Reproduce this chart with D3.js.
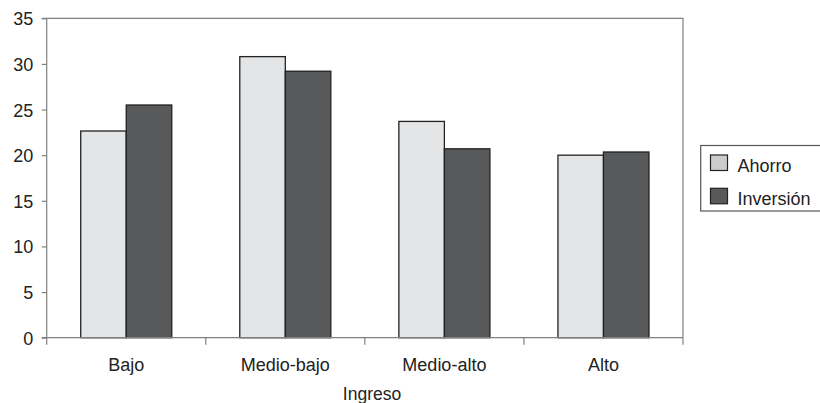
<!DOCTYPE html>
<html><head><meta charset="utf-8">
<script src="https://cdn.jsdelivr.net/npm/d3@7"></script>
<style>
body{margin:0;background:#fff;}
svg text{font-family:"Liberation Sans",Arial,sans-serif;fill:#222;}
</style></head>
<body><svg id="c" width="820" height="403"></svg>
<script>
const categories = ["Bajo","Medio-bajo","Medio-alto","Alto"];
const seriesNames = ["Ahorro","Inversión"];
const ahorro = [22.65, 30.8, 23.7, 20.0];
const inversion = [25.5, 29.2, 20.7, 20.35];
const yTicks = [0,5,10,15,20,25,30,35];
const xTitle = "Ingreso";

const colors = {"Ahorro":"#e4e5e7","Inversión":"#58595b"};
const legendColors = {"Ahorro":"#cbcccd","Inversión":"#58595b"};
const seriesValues = {"Ahorro":ahorro,"Inversión":inversion};

const svg = d3.select("#c");
const L = 46.7, R = 683, T = 18.3, B = 337.7;

const y = d3.scaleLinear().domain([0,35]).range([B,T]);
const x0 = d3.scaleBand().domain(categories).range([L,R]).padding(0);
const gap = x0.step()*34/159;
const x1 = d3.scaleBand().domain(seriesNames).range([gap, x0.step()-gap]).padding(0);

svg.append("path")
  .attr("d", `M${L},${T}H${R}V${B}`)
  .attr("fill","none").attr("stroke","#808080").attr("stroke-width",1.2);

const g = svg.append("g");
categories.forEach((c,i)=>{
  seriesNames.forEach(s=>{
    const v = seriesValues[s][i];
    g.append("rect")
      .attr("x", x0(c)+x1(s))
      .attr("y", y(v))
      .attr("width", x1.bandwidth())
      .attr("height", B - y(v))
      .attr("fill", colors[s])
      .attr("stroke","#222").attr("stroke-width",1.3);
  });
});

const yAxis = d3.axisLeft(y).tickValues(yTicks).tickSize(5).tickPadding(8);
const ya = svg.append("g").attr("transform",`translate(${L},0)`).call(yAxis);
ya.selectAll("path,line").attr("stroke","#808080").attr("stroke-width",1.2);
ya.select(".domain").attr("d",`M-5,${T}H0V${B}H-5`);
ya.selectAll("text").style("font-size","18px").attr("fill","#222").attr("dy","0.36em").attr("x",-13.5);

const bounds = categories.map(c=>x0(c)).concat([R]);
const xa = svg.append("g");
xa.append("line").attr("x1",L).attr("x2",R).attr("y1",B).attr("y2",B)
  .attr("stroke","#808080").attr("stroke-width",1.2);
xa.selectAll("line.t").data(bounds).enter().append("line")
  .attr("x1",d=>d).attr("x2",d=>d).attr("y1",B).attr("y2",B+7)
  .attr("stroke","#808080").attr("stroke-width",1.2);
xa.selectAll("text").data(categories).enter().append("text")
  .attr("x",d=>x0(d)+x0.bandwidth()/2).attr("y",371)
  .attr("text-anchor","middle").style("font-size","18px").text(d=>d);

svg.append("text").attr("x",372).attr("y",400).attr("text-anchor","middle")
  .style("font-size","17.5px").text(xTitle);

const lg = svg.append("g");
lg.append("rect").attr("x",700.7).attr("y",145.5).attr("width",125).attr("height",65.5)
  .attr("fill","#fff").attr("stroke","#555").attr("stroke-width",1.2);
seriesNames.forEach((s,i)=>{
  const yy = 155 + i*33.3;
  lg.append("rect").attr("x",710.5).attr("y",yy).attr("width",17).attr("height",15.5)
    .attr("fill",legendColors[s]).attr("stroke","#222").attr("stroke-width",1.2);
  lg.append("text").attr("x",737.5).attr("y",yy+16.5).style("font-size","18px").text(s);
});
</script></body></html>
